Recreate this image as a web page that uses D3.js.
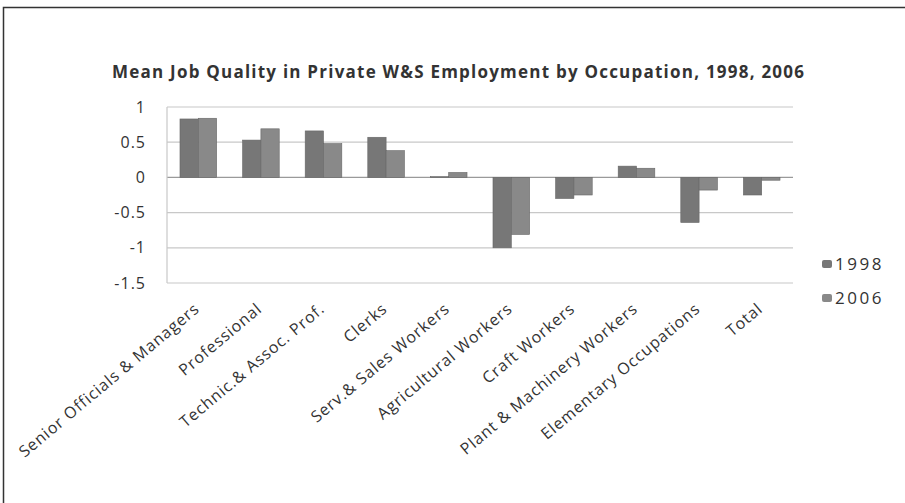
<!DOCTYPE html>
<html><head><meta charset="utf-8">
<script src="https://cdn.jsdelivr.net/npm/d3@7"></script>
<style>body{margin:0;background:#fff}svg{display:block}</style>
</head><body>
<svg id="c" width="905" height="503"></svg>
<script>
const categories = ["Senior Officials & Managers","Professional","Technic.& Assoc. Prof.","Clerks","Serv.& Sales Workers","Agricultural Workers","Craft Workers","Plant & Machinery Workers","Elementary Occupations","Total"];
const series = ["1998","2006"];
const values1998 = [0.83,0.53,0.66,0.57,0.01,-1.00,-0.30,0.16,-0.64,-0.25];
const values2006 = [0.84,0.69,0.48,0.38,0.07,-0.81,-0.25,0.13,-0.18,-0.04];
const yTicks = [1,0.5,0,-0.5,-1,-1.5];
const title = "Mean Job Quality in Private W&S Employment by Occupation, 1998, 2006";

const colors = {"1998":"#777777","2006":"#898989"};
const svg = d3.select("#c");
const font = "'Open Sans', 'Liberation Sans', sans-serif";

// frame
svg.append("rect").attr("x",3.5).attr("y",7.5).attr("width",906).attr("height",510)
  .attr("fill","none").attr("stroke","#333").attr("stroke-width",1.5);

const L=167, R=793, T=107, B=283;
const y = d3.scaleLinear().domain([-1.5,1]).range([B,T]);
const x0 = d3.scaleBand().domain(categories).range([L,R]).paddingInner(0.415).paddingOuter(0.2075);
const x1 = d3.scaleBand().domain(series).range([0,x0.bandwidth()]);

// gridlines
svg.append("g").selectAll("line").data(yTicks).join("line")
  .attr("x1",L).attr("x2",R).attr("y1",d=>y(d)).attr("y2",d=>y(d))
  .attr("stroke",d=>d===0?"#9a9a9a":"#c8c8c8").attr("stroke-width",1.2);
svg.append("line").attr("x1",L).attr("x2",L).attr("y1",T).attr("y2",B).attr("stroke","#c8c8c8").attr("stroke-width",1.2);

// y axis labels
const yAxis = d3.axisLeft(y).tickValues(yTicks).tickSize(0).tickPadding(0).tickFormat(d=>String(d));
const ya = svg.append("g").attr("transform",`translate(${L-21},0)`).call(yAxis);
ya.select(".domain").remove();
ya.selectAll("text").attr("font-family",font).attr("font-size",16).attr("letter-spacing",1).attr("fill","#333");

// bars
const data = categories.map((c,i)=>({c, v:{"1998":values1998[i],"2006":values2006[i]}}));
const g = svg.append("g").selectAll("g").data(data).join("g").attr("transform",d=>`translate(${x0(d.c)},0)`);
g.selectAll("rect").data(d=>series.map(s=>({s,v:d.v[s]}))).join("rect")
  .attr("x",d=>x1(d.s)).attr("width",x1.bandwidth())
  .attr("y",d=>y(Math.max(0,d.v))).attr("height",d=>Math.abs(y(d.v)-y(0)))
  .attr("fill",d=>colors[d.s]).attr("stroke","#666").attr("stroke-width",0.6);

// x labels
const xa = svg.append("g").attr("transform",`translate(0,${B+19})`)
  .call(d3.axisBottom(x0).tickSize(0).tickPadding(0));
xa.select(".domain").remove();
xa.selectAll("text").attr("font-family",font).attr("font-size",16).attr("letter-spacing",0.9).attr("fill","#333")
  .attr("text-anchor","end").attr("dy","0.7em").attr("dx","0")
  .attr("transform","translate(-5,0) rotate(-40)");

// title
svg.append("text").attr("x",458).attr("y",78).attr("text-anchor","middle")
  .attr("font-family",font).attr("font-weight","bold").attr("font-size",17).attr("fill","#333")
  .attr("textLength",692).attr("lengthAdjust","spacing").text(title);

// legend
const lg = svg.append("g").selectAll("g").data(series).join("g")
  .attr("transform",(d,i)=>`translate(822,${264+i*34})`);
lg.append("rect").attr("x",0).attr("y",-4).attr("width",10).attr("height",8).attr("rx",2).attr("fill",d=>colors[d]);
lg.append("text").attr("x",13).attr("y",0).attr("dy","0.35em").attr("font-family",font).attr("font-size",17).attr("letter-spacing",2.5).attr("fill","#333").text(d=>d);
</script>
</body></html>
